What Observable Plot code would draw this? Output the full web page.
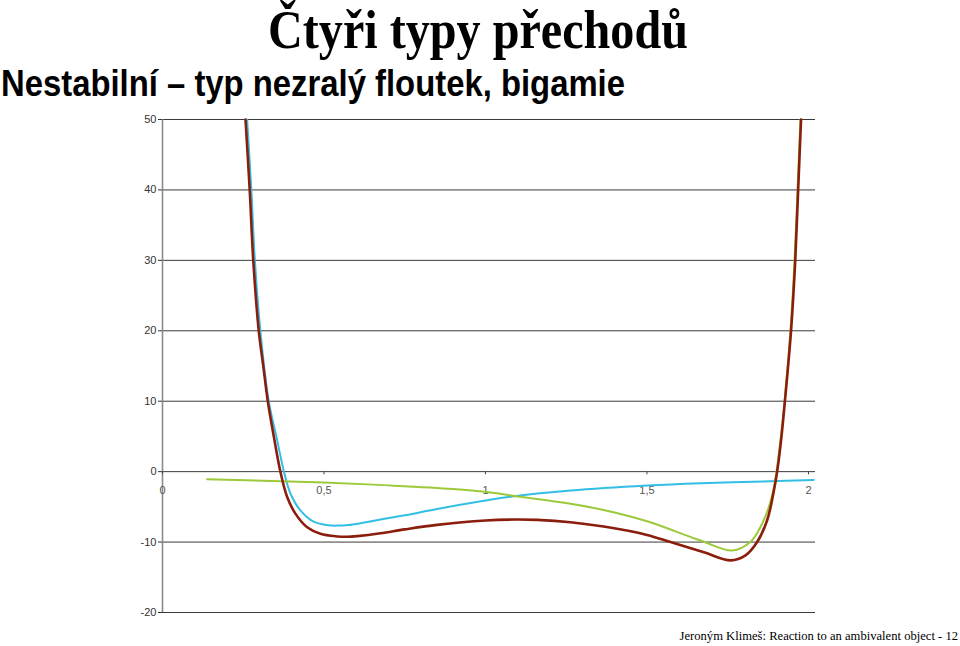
<!DOCTYPE html>
<html>
<head>
<meta charset="utf-8">
<script src="https://cdn.jsdelivr.net/npm/d3@7"></script>
<script src="https://cdn.jsdelivr.net/npm/@observablehq/plot@0.6"></script>
<style>
  html, body { margin: 0; padding: 0; background: #fff; width: 960px; height: 646px; overflow: hidden; }
  #head, #chart { position: absolute; left: 0; }
  #head { top: 0; }
  #chart { top: 110px; }
  #foot { position: absolute; right: 2px; top: 629px; font-family: "Liberation Serif", "Times New Roman", serif; font-size: 12.6px; line-height: 15px; white-space: nowrap; color: #000; }
</style>
</head>
<body>
<svg id="head" width="960" height="110">
  <text x="478" y="48" text-anchor="middle" font-family="Liberation Serif, Times New Roman, serif" font-weight="bold" font-size="54" textLength="420" lengthAdjust="spacingAndGlyphs">Čtyři typy přechodů</text>
  <text x="1" y="96" font-family="Liberation Sans Narrow, Arial Narrow, Liberation Sans, Arial, sans-serif" font-weight="bold" font-size="36" textLength="624" lengthAdjust="spacingAndGlyphs">Nestabilní – typ nezralý floutek, bigamie</text>
</svg>
<div id="chart"></div>
<div id="foot">Jeroným Klimeš: Reaction to an ambivalent object - 12</div>
<script>
// Tick values
const yTicks = [-20, -10, 0, 10, 20, 30, 40, 50];
const xTicks = [0, 0.5, 1, 1.5, 2];
const xTickLabels = ["0", "0,5", "1", "1,5", "2"];

// Cyan curve (x, y)
const cyanX = [0.262, 0.275, 0.286, 0.303, 0.329, 0.353, 0.376, 0.396, 0.427, 0.468, 0.515, 0.545, 0.575, 0.61, 0.675, 0.75, 0.85, 1.0, 1.088, 1.263, 1.5, 1.666, 1.882, 2.016];
const cyanY = [50, 40, 30, 20, 10, 4.9, 0, -3.1, -5.5, -7.1, -7.62, -7.66, -7.58, -7.35, -6.8, -6.2, -5.3, -4.1, -3.49, -2.68, -1.97, -1.64, -1.36, -1.17];

// Green curve
const greenX = [0.138, 0.5, 0.7, 0.9, 1.0, 1.088, 1.263, 1.366, 1.5, 1.666, 1.764, 1.820, 1.851, 1.877, 1.893, 1.901, 1.913, 1.926, 1.944, 1.957, 1.966, 1.975];
const greenY = [-1.07, -1.55, -1.95, -2.45, -2.85, -3.45, -4.55, -5.45, -7.05, -9.78, -11.2, -10.0, -7.9, -5.05, -2.2, 0, 4.4, 10, 20, 30, 40, 50];

// Brown (sum) curve
const brownX = [0.257, 0.270, 0.281, 0.298, 0.312, 0.326, 0.345, 0.365, 0.386, 0.412, 0.448, 0.489, 0.541, 0.572, 0.603, 0.675, 0.75, 0.85, 1.0, 1.09, 1.16, 1.263, 1.366, 1.50, 1.573, 1.676, 1.759, 1.805, 1.841, 1.872, 1.891, 1.903, 1.915, 1.927, 1.946, 1.959, 1.968, 1.977];
const brownY = [50, 40, 30, 20, 15, 10, 4.9, 0, -3.6, -6.0, -7.9, -8.83, -9.2, -9.25, -9.15, -8.75, -8.2, -7.56, -6.94, -6.8, -6.85, -7.18, -7.8, -8.98, -10.0, -11.45, -12.6, -11.9, -10.0, -6.9, -3.15, 0, 4.4, 10, 20, 30, 40, 50];

const toPts = (xs, ys) => xs.map((x, i) => ({x, y: ys[i]}));
const cyan = toPts(cyanX, cyanY);
const green = toPts(greenX, greenY);
const brown = toPts(brownX, brownY);
const xLab = xTicks.map((x, i) => ({x, label: xTickLabels[i]}));

const chart = Plot.plot({
  width: 960,
  height: 520,
  marginTop: 9,
  marginBottom: 18,
  marginLeft: 162,
  marginRight: 145,
  style: {fontFamily: "Liberation Sans, Arial, sans-serif", fontSize: "11px", background: "#fff"},
  x: {domain: [0, 2.0217], axis: null},
  y: {domain: [-20, 50], axis: null},
  marks: [
    Plot.ruleY(yTicks, {stroke: "#3a3a3a", strokeWidth: 1}),
    Plot.ruleX([0], {stroke: "#8a8a8a", strokeWidth: 1.6}),
    Plot.axisY({ticks: yTicks, tickSize: 4, tickPadding: 2, tickFormat: d => String(d), label: null, color: "#333", fontSize: 11}),
    Plot.ruleX(xTicks, {x: d => d, y1: 0, y2: -0.45, stroke: "#444"}),
    Plot.text(xLab, {x: "x", y: 0, dy: 19, text: "label", fill: "#555", fontSize: 11}),
    Plot.line(cyan, {x: "x", y: "y", stroke: "#33bfe3", strokeWidth: 2, curve: "catmull-rom"}),
    Plot.line(green, {x: "x", y: "y", stroke: "#9cc93a", strokeWidth: 2, curve: "catmull-rom"}),
    Plot.line(brown, {x: "x", y: "y", stroke: "#8b1d0c", strokeWidth: 2.6, curve: "catmull-rom"})
  ]
});
document.getElementById("chart").appendChild(chart);
</script>
</body>
</html>
